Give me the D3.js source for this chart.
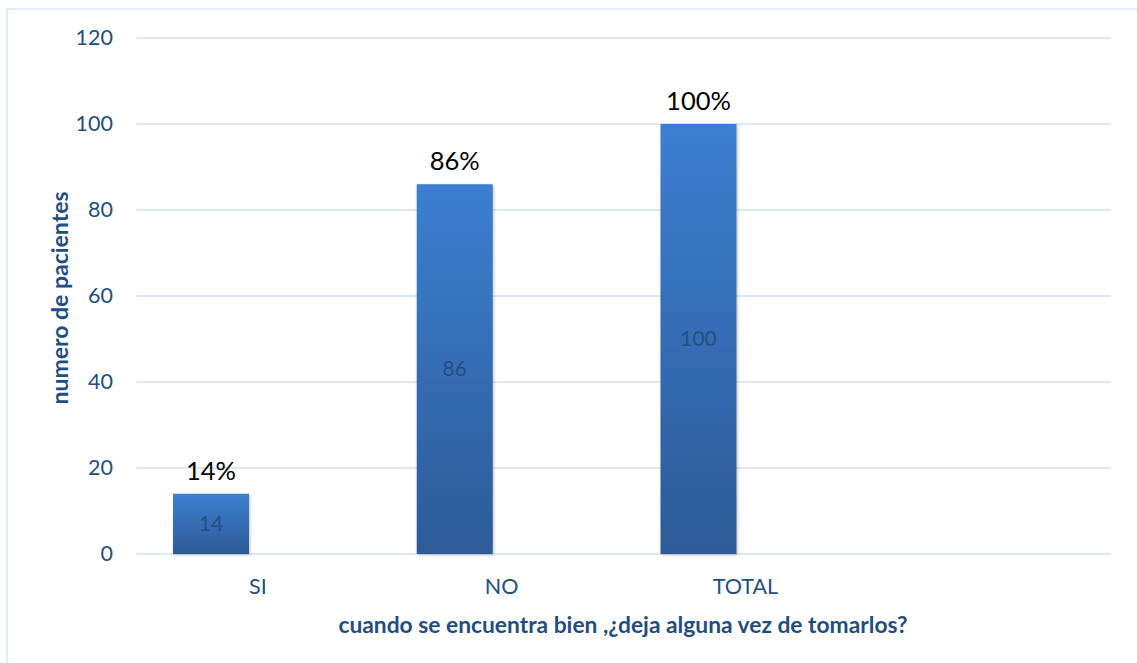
<!DOCTYPE html>
<html>
<head>
<meta charset="utf-8">
<script src="https://cdn.jsdelivr.net/npm/d3@7"></script>
<style>
  html, body { margin: 0; padding: 0; background: #fff; }
  svg { display: block; }
  text { font-family: Lato, "Open Sans", sans-serif; }
</style>
</head>
<body>
<svg id="chart" width="1137" height="663"></svg>
<script>
const categories = ["SI", "NO", "TOTAL", ""];
const values = [14, 86, 100, null];
const percentLabels = ["14%", "86%", "100%", ""];
const yTicks = [0, 20, 40, 60, 80, 100, 120];
const yTitle = "numero de pacientes";
const xTitle = "cuando se encuentra bien ,¿deja alguna vez de tomarlos?";

const W = 1137, H = 663;
const m = { left: 136, right: 1111, top: 38, bottom: 554 };
const svg = d3.select("#chart");

// chart border
svg.append("rect").attr("x", 7).attr("y", 9).attr("width", W + 10).attr("height", H + 10)
  .attr("fill", "#fff").attr("stroke", "#d9e3f1").attr("stroke-width", 1.5);

const x = d3.scaleBand().domain(categories.map((c, i) => i)).range([m.left, m.right]).padding(0);
const y = d3.scaleLinear().domain([0, 120]).range([m.bottom, m.top]);

const defs = svg.append("defs");
const grad = defs.append("linearGradient").attr("id", "barGrad").attr("x1", 0).attr("y1", 0).attr("x2", 0).attr("y2", 1);
grad.append("stop").attr("offset", "0%").attr("stop-color", "#3c7fd0");
grad.append("stop").attr("offset", "100%").attr("stop-color", "#2d5a97");
const shadow = defs.append("filter").attr("id", "shadow").attr("x", "-20%").attr("y", "-20%").attr("width", "140%").attr("height", "140%");
shadow.append("feDropShadow").attr("dx", 1).attr("dy", 1).attr("stdDeviation", 1.5).attr("flood-color", "#000").attr("flood-opacity", 0.25);

// gridlines
svg.append("g").selectAll("line").data(yTicks).join("line")
  .attr("x1", m.left).attr("x2", m.right)
  .attr("y1", d => y(d)).attr("y2", d => y(d))
  .attr("stroke", "#d5e1f2").attr("stroke-width", 1.5);

// y axis labels
const yAxis = d3.axisLeft(y).tickValues(yTicks).tickSize(0).tickPadding(0);
const gy = svg.append("g").attr("transform", `translate(113,0)`).call(yAxis);
gy.select(".domain").remove();
gy.selectAll("text").attr("font-size", 21.5).attr("fill", "#234f82").attr("font-family", "Lato, sans-serif");

// x axis labels
const xAxis = d3.axisBottom(x).tickFormat(i => categories[i]).tickSize(0).tickPadding(0);
const gx = svg.append("g").attr("transform", `translate(0,${m.bottom})`).call(xAxis);
gx.select(".domain").remove();
gx.selectAll("text").attr("font-size", 21.5).attr("fill", "#234f82").attr("font-family", "Lato, sans-serif")
  .attr("dy", null).attr("y", 40);

// bars
const barOffset = 37, barW = 76;
const data = categories.map((c, i) => ({ i, c, v: values[i], p: percentLabels[i] })).filter(d => d.v != null);
svg.append("g").selectAll("rect").data(data).join("rect")
  .attr("x", d => x(d.i) + barOffset)
  .attr("width", barW)
  .attr("y", d => y(d.v))
  .attr("height", d => y(0) - y(d.v))
  .attr("fill", "url(#barGrad)")
  .attr("filter", "url(#shadow)");

// inner value labels
svg.append("g").selectAll("text").data(data).join("text")
  .attr("x", d => x(d.i) + barOffset + barW / 2)
  .attr("y", d => (y(d.v) + y(0)) / 2)
  .attr("dy", "0.35em")
  .attr("text-anchor", "middle")
  .attr("font-size", 21)
  .attr("fill", "#254f85")
  .text(d => d.v);

// percent labels
svg.append("g").selectAll("text").data(data).join("text")
  .attr("x", d => x(d.i) + barOffset + barW / 2)
  .attr("y", d => y(d.v) - 14)
  .attr("text-anchor", "middle")
  .attr("font-size", 25.5)
  .attr("fill", "#000")
  .text(d => d.p);

// axis titles
svg.append("text")
  .attr("transform", `translate(68,${(m.top + m.bottom) / 2 + 2}) rotate(-90)`)
  .attr("text-anchor", "middle")
  .attr("font-size", 23).attr("font-weight", "bold").attr("fill", "#1f4e82")
  .text(yTitle);

svg.append("text")
  .attr("x", 623).attr("y", 633)
  .attr("text-anchor", "middle")
  .attr("font-size", 22.8).attr("font-weight", "bold").attr("fill", "#1f4e82")
  .text(xTitle);
</script>
</body>
</html>
